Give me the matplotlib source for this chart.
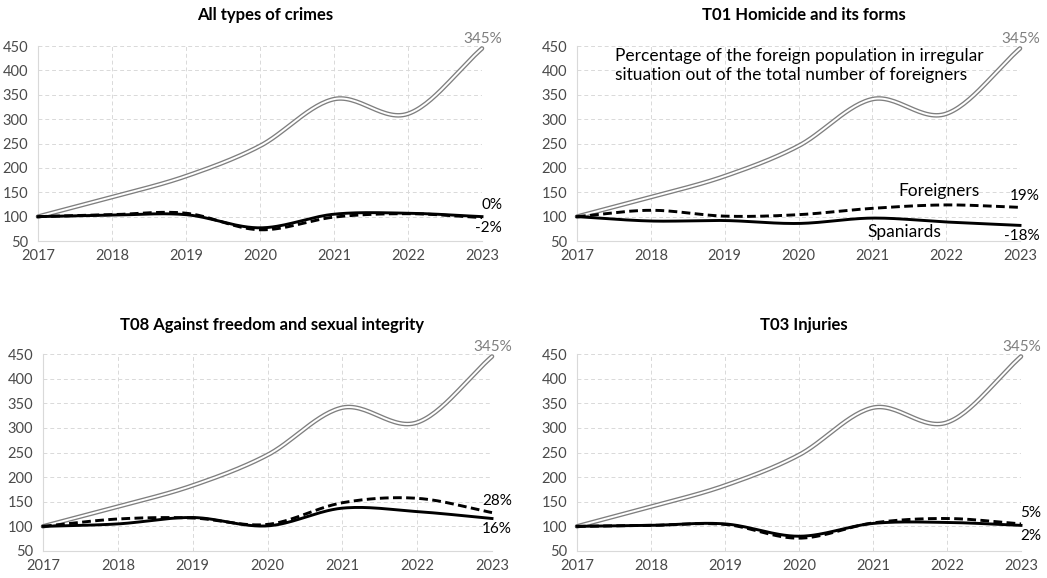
import numpy as np
import matplotlib
matplotlib.use("Agg")
import matplotlib.pyplot as plt

plt.rcParams['font.family'] = ['Lato', 'DejaVu Sans']

years = [2017, 2018, 2019, 2020, 2021, 2022, 2023]
irregular = [100, 140, 183, 245, 341, 311, 445]

titles = ["All types of crimes", "T01 Homicide and its forms",
          "T08 Against freedom and sexual integrity", "T03 Injuries"]
spaniards_all = [100, 103, 104, 77, 105, 107, 100]
foreigners_all = [100, 104, 107, 73, 99, 106, 98]
spaniards_t01 = [100, 91, 92, 86, 97, 89, 82]
foreigners_t01 = [100, 113, 101, 104, 117, 124, 119]
spaniards_t08 = [100, 105, 118, 101, 137, 130, 116]
foreigners_t08 = [100, 115, 117, 104, 148, 157, 128]
spaniards_t03 = [100, 102, 105, 80, 106, 108, 102]
foreigners_t03 = [100, 102, 104, 76, 107, 116, 105]

sp_labels = ["0%", "-18%", "16%", "2%"]
fo_labels = ["-2%", "19%", "28%", "5%"]
irr_label = "345%"

spaniards = [spaniards_all, spaniards_t01, spaniards_t08, spaniards_t03]
foreigners = [foreigners_all, foreigners_t01, foreigners_t08, foreigners_t03]

yticks = [50, 100, 150, 200, 250, 300, 350, 400, 450]


def smooth(x, y, n=30):
    x = np.asarray(x, float); y = np.asarray(y, float)
    px = np.concatenate([[2 * x[0] - x[1]], x, [2 * x[-1] - x[-2]]])
    py = np.concatenate([[2 * y[0] - y[1]], y, [2 * y[-1] - y[-2]]])
    xs, ys = [], []
    for i in range(1, len(px) - 2):
        t = np.linspace(0, 1, n, endpoint=(i == len(px) - 3))
        p0, p1, p2, p3 = px[i-1], px[i], px[i+1], px[i+2]
        q0, q1, q2, q3 = py[i-1], py[i], py[i+1], py[i+2]
        def cr(a0, a1, a2, a3):
            return 0.5 * ((2 * a1) + (-a0 + a2) * t + (2*a0 - 5*a1 + 4*a2 - a3) * t**2 + (-a0 + 3*a1 - 3*a2 + a3) * t**3)
        xs.append(cr(p0, p1, p2, p3)); ys.append(cr(q0, q1, q2, q3))
    return np.concatenate(xs), np.concatenate(ys)


W, H = 1047, 578
fig = plt.figure(figsize=(W / 100, H / 100), dpi=100)

# left, right, top(450), bottom(50) in pixels
boxes = [(38, 482, 46, 241), (577, 1020, 46, 241),
         (43, 492, 354, 551), (577, 1021, 354, 551)]
title_y = [15, 15, 325, 325]

for k, (l, r, t, b) in enumerate(boxes):
    ax = fig.add_axes([l / W, 1 - b / H, (r - l) / W, (b - t) / H])
    ax.set_xlim(2017, 2023)
    ax.set_ylim(50, 450)
    ax.set_xticks(years)
    ax.set_yticks(yticks)
    ax.tick_params(length=0, labelsize=10.5, colors='#4a4a4a')
    ax.tick_params(axis='x', pad=6)
    ax.tick_params(axis='y', pad=7)
    for s in ['top', 'right']:
        ax.spines[s].set_visible(False)
    for s in ['left', 'bottom']:
        ax.spines[s].set_color('#d9d9d9')
        ax.spines[s].set_linewidth(0.8)
    ax.grid(True, color='#d9d9d9', linestyle=(0, (4, 3)), linewidth=0.7)
    ax.set_axisbelow(True)

    xs, ys = smooth(years, irregular)
    ax.plot(xs, ys, color='#7f7f7f', lw=3.3, solid_capstyle='round', clip_on=False, zorder=3)
    ax.plot(xs, ys, color='white', lw=1.4, solid_capstyle='round', clip_on=False, zorder=4)

    xs, ys = smooth(years, spaniards[k])
    ax.plot(xs, ys, color='black', lw=2.1, clip_on=False, zorder=5)
    xs, ys = smooth(years, foreigners[k])
    ax.plot(xs, ys, color='black', lw=2.1, ls=(0, (3, 1.5)), clip_on=False, zorder=5)

    xr = 2023 + 20 / ((r - l) / 6)
    ax.text(xr, irregular[-1] + 20, irr_label, color='#7f7f7f', fontsize=11,
            ha='right', va='center', clip_on=False)
    sp_end = spaniards[k][-1]; fo_end = foreigners[k][-1]
    if sp_end >= fo_end:
        sp_y, fo_y = sp_end + 23, fo_end - 21
    else:
        sp_y, fo_y = sp_end - 21, fo_end + 23
    ax.text(xr, sp_y, sp_labels[k], color='black', fontsize=11, ha='right', va='center', clip_on=False)
    ax.text(xr, fo_y, fo_labels[k], color='black', fontsize=11, ha='right', va='center', clip_on=False)

    fig.text(((l + r) / 2 + 5) / W, 1 - title_y[k] / H, titles[k], ha='center', va='center',
             fontsize=12, fontweight='bold', color='black')

    if k == 1:
        ax.text(2017.52, 446, "Percentage of the foreign population in irregular\n"
                "situation out of the total number of foreigners",
                fontsize=12.5, ha='left', va='top', color='black', linespacing=1.2)
        ax.text(2021.9, 153, "Foreigners", fontsize=12.5, ha='center', va='center')
        ax.text(2021.44, 68, "Spaniards", fontsize=12.5, ha='center', va='center')

fig.savefig("out.png", dpi=100, facecolor='white')
